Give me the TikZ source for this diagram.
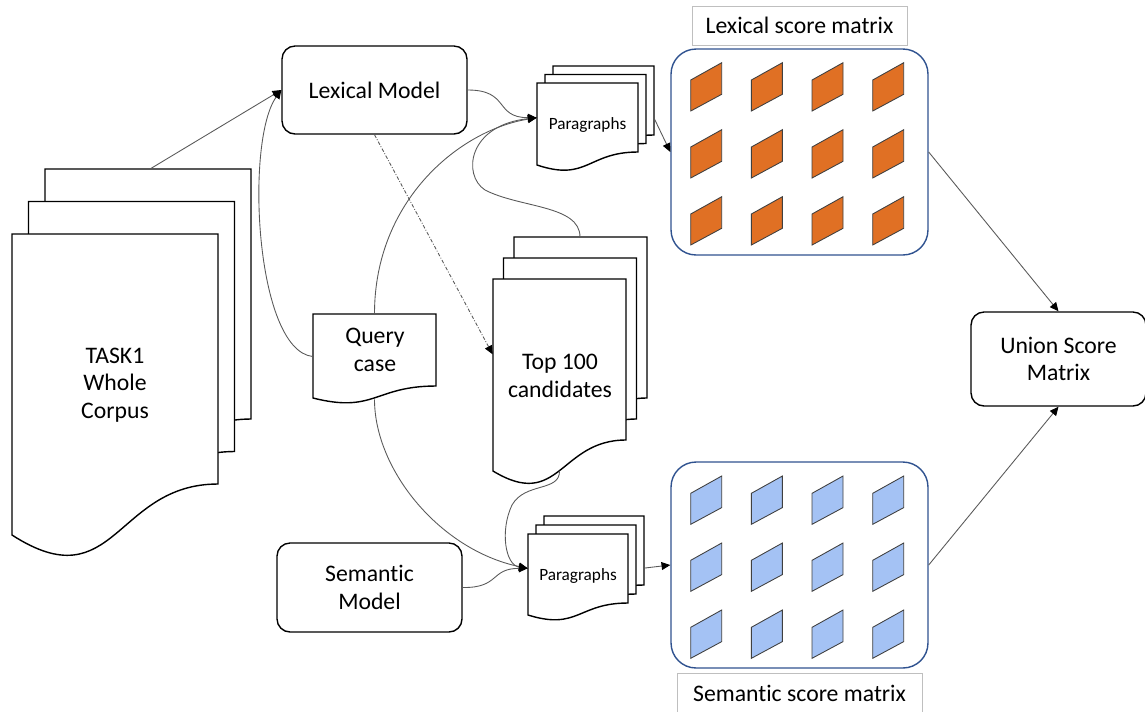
\documentclass[tikz,border=0pt]{standalone}
\usepackage{fontspec}
\setmainfont[Ligatures = NoCommon]{Carlito}
\usepackage{xcolor}
\usepackage{tikz}
\usetikzlibrary{arrows.meta}
\usetikzlibrary{shapes}

\definecolor{lexorange}{RGB}{224,112,36}
\definecolor{semblue}{RGB}{164,194,244}
\definecolor{boxblue}{RGB}{47,82,143}
\definecolor{taggray}{RGB}{191,191,191}
\definecolor{linegray}{RGB}{89,89,89}
\definecolor{cellgray}{RGB}{64,64,64}

\tikzset{
    docline/.style = {draw = black, fill = white, line width = 0.8pt},
    docarea/.style = {draw = none, inner sep = 0pt},
    doctext/.style = {align = center, font = \fontsize{13.5}{15.6}\selectfont},
    paratext/.style = {font = \fontsize{9.8}{12}\selectfont},
    modelbox/.style = {draw, rounded corners = 0.26cm, line width = 0.8pt,
        align = center, font = \fontsize{13.5}{15.6}\selectfont},
    scorebox/.style = {draw = boxblue, rounded corners = 0.5cm, line width = 0.8pt,
        minimum width = 5.14cm, minimum height = 4.12cm},
    tagbox/.style = {draw = taggray, line width = 0.5pt, inner sep = 0pt,
        font = \fontsize{13.5}{15.6}\selectfont},
    lexcell/.style = {draw = cellgray, fill = lexorange, line width = 0.5pt},
    semcell/.style = {draw = cellgray, fill = semblue, line width = 0.5pt},
    conn/.style = {draw = linegray, line width = 0.5pt,
        -{Triangle[length = 5pt, width = 4.5pt, color = black]}}
}

% one page: left, top, right, right bottom, left bottom
\newcommand{\docpage}[5]{%
    \filldraw[docline] ({#1}, {#2}) -- ({#3}, {#2}) -- ({#3}, {#4})
        .. controls ({((#1) + (#3))/2}, {#4}) and ({((#1) + (#3))/2}, {(#5) + 1.3*((#5) - (#4))})
        .. ({#1}, {#5}) -- cycle;}
% three pages: left, top, right, right bottom, left bottom, dx, dy
\newcommand{\docstack}[7]{%
    \foreach \k in {2, 1, 0} {
        \docpage{#1 + \k*#6}{#2 - \k*#7}{#3 + \k*#6}{#4 - \k*#7}{#5 - \k*#7}
    }}

\begin{document}
\begin{tikzpicture}[x = 0.02cm, y = -0.02cm]
        \useasboundingbox (0, 0) rectangle (1145, 711);

        % documents
        \docstack{12}{234}{218}{484}{535}{16.5}{32.5}
        \docstack{493}{279}{626}{440}{471}{10.5}{21}
        \docstack{537}{83}{638}{152}{165}{8}{8.5}
        \docstack{528}{534}{628}{603}{615}{8}{9}
        \docpage{313}{314}{436}{386}{398}

        \node[docarea, minimum width = 4.12cm, minimum height = 6.02cm] (corpus) at (115, 384.5) {};
        \node[docarea, minimum width = 2.66cm, minimum height = 3.83cm] (top100) at (559.5, 374.8) {};
        \node[docarea, minimum width = 2.02cm, minimum height = 1.64cm] (paralex) at (587.5, 124) {};
        \node[docarea, minimum width = 2cm, minimum height = 1.62cm] (semparas) at (578, 574.5) {};
        \node[docarea, minimum width = 2.46cm, minimum height = 1.7cm] (query) at (374.5, 356.5) {};

        \node[doctext] (corpus-text) at (115, 385) {TASK1\\Whole\\Corpus};
        \node[doctext] (top100-text) at (560, 376) {Top 100\\candidates};
        \node[doctext] (query-text) at (375, 350) {Query\\case};
        \node[paratext] (paralex-text) at (587.5, 125) {Paragraphs};
        \node[paratext] (semparas-text) at (578, 576) {Paragraphs};

        % models
        \node[modelbox, minimum width = 3.7cm, minimum height = 1.76cm] (lexmodel) at (374.5, 90) {Lexical Model};
        \node[modelbox, minimum width = 3.7cm, minimum height = 1.78cm] (semmodel) at (369.5, 587.5) {Semantic\\Model};
        \node[modelbox, minimum width = 3.5cm, minimum height = 1.88cm] (union) at (1058.5, 359) {Union Score\\Matrix};

        % score matrices
        \node[scorebox] (lexmatrix) at (799.5, 152) {};
        \node[scorebox] (semmatrix) at (799.5, 565) {};
        \node[tagbox, minimum width = 4.3cm, minimum height = 0.78cm] (lexlabel) at (799.5, 25.5) {Lexical score matrix};
        \node[tagbox, minimum width = 4.9cm, minimum height = 0.8cm] (semlabel) at (799.5, 693) {Semantic score matrix};

        \foreach \col in {0, ..., 3} {
            \foreach \row in {0, 1, 2} {
                \filldraw[lexcell] ({690.7 + 60.67*\col}, {80 + 67*\row})
                    -- ++(31, -17.3) -- ++(0, 31.6) -- ++(-31, 16.7) -- cycle;
                \filldraw[semcell] ({690.7 + 60.67*\col}, {493.3 + 67*\row})
                    -- ++(31, -17.3) -- ++(0, 31.6) -- ++(-31, 16.7) -- cycle;
            }
        }

        % connectors
        \coordinate (corpus-top) at (150, 169);
        \coordinate (top100-top) at (580, 237);
        \coordinate (paralex-out) at (654, 118);
        \coordinate (semparas-out) at (645, 568);

        \draw[conn] (corpus-top) -- (lexmodel.west);
        \draw[conn] (query.west) .. controls (255, 350) and (245, 140) .. (lexmodel.west);
        \draw[conn] (lexmodel.east) .. controls (510, 90) and (494, 117.5) .. (paralex.173);
        \draw[conn] (query.north) .. controls (374.5, 200) and (460, 130) .. (paralex.173);
        \draw[conn] (top100-top) .. controls (580, 205) and (520, 208) .. (485, 190)
            .. controls (462, 175) and (468, 125) .. (paralex.173);
        \draw[conn, dash pattern = on 2pt off 1pt on 0.5pt off 1pt] (lexmodel.south) -- (top100.163);
        \draw[conn] (query.south) .. controls (374.5, 470) and (440, 550) .. (semparas.173);
        \draw[conn] (top100.south) .. controls (560, 492) and (525, 482) .. (512, 505)
            .. controls (500, 530) and (505, 565) .. (semparas.173);
        \draw[conn] (semmodel.east) .. controls (500, 588) and (490, 568.4) .. (semparas.173);
        \draw[conn] (paralex-out) -- (lexmatrix.west);
        \draw[conn] (semparas-out) -- (semmatrix.west);
        \draw[conn] (lexmatrix.east) -- (union.north);
        \draw[conn] (semmatrix.east) -- (union.south);
    \end{tikzpicture}
\end{document}
